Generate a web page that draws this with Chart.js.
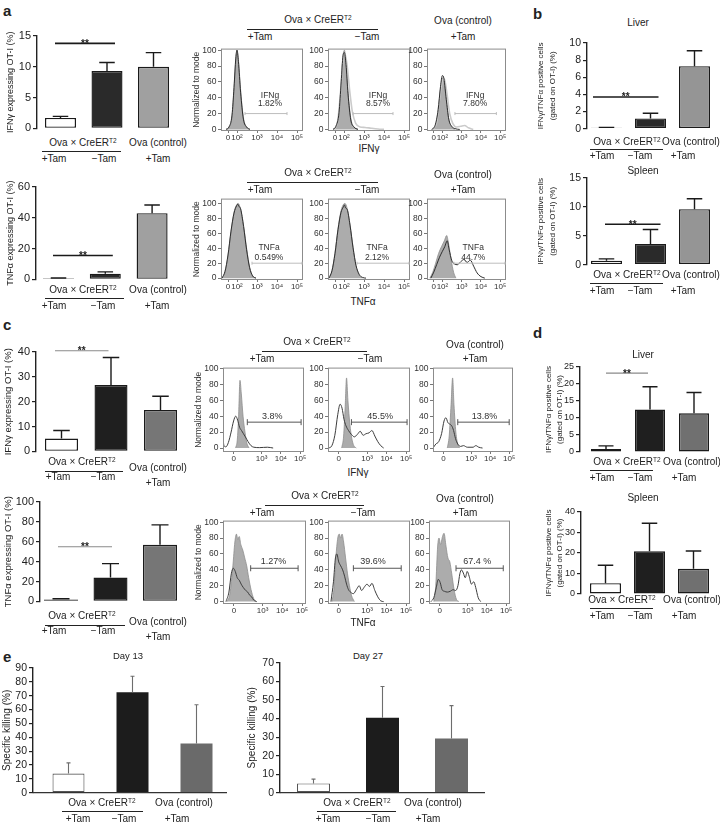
<!DOCTYPE html>
<html>
<head>
<meta charset="utf-8">
<title>OT-I cytokine and killing figure</title>
<script src="https://cdn.jsdelivr.net/npm/chart.js@4.4.1/dist/chart.umd.min.js"></script>
<style>
  html, body { margin: 0; padding: 0; background: #fff; }
  body { position: relative; width: 720px; height: 825px; overflow: hidden;
         font-family: 'Liberation Sans', Arial, sans-serif; color: #222; }
  canvas { position: absolute; }
  .lb { position: absolute; transform: translate(-50%, -50%); white-space: nowrap; line-height: 1; }
  .lb sup { font-size: 65%; position: relative; top: -0.45em; vertical-align: baseline; line-height: 0; }
  .rule { position: absolute; height: 0; border-top: 1.3px solid #222; }
  .letter { position: absolute; font-weight: bold; font-size: 15px; line-height: 1; }
</style>
</head>
<body>
<script>
(function () {
    'use strict';

    const FONT = "'Liberation Sans', Arial, 'DejaVu Sans', sans-serif";

    /* Bar data (mean and top of error bar), slots:
     * Ova x CreER +Tam, Ova x CreER -Tam, Ova (control) +Tam
     * -------------------------------------------------- */
    const barSlots = [0, 1, 2];

    const aIfnVals = [1.7, 9.3, 10.0];
    const aIfnErrs = [1.95, 10.7, 12.3];
    const aIfnTicks = [0, 5, 10, 15];
    const aIfnSig = [0, 1, 13.8];

    const aTnfVals = [0.7, 3.7, 43];
    const aTnfErrs = [0.9, 4.9, 48.3];
    const aTnfTicks = [0, 20, 40, 60];
    const aTnfSig = [0, 1, 15.5];

    const bLivVals = [0.12, 1.2, 7.3];
    const bLivErrs = [0.15, 1.8, 9.1];
    const bLivTicks = [0, 2, 4, 6, 8, 10];
    const bLivSig = [0, 1, 3.7];

    const bSplVals = [0.7, 3.6, 9.6];
    const bSplErrs = [1.0, 6.1, 11.4];
    const bSplTicks = [0, 5, 10, 15];
    const bSplSig = [0, 1, 7.0];

    const cIfnVals = [5.2, 26.7, 16.7];
    const cIfnErrs = [8.4, 37.8, 22.2];
    const cIfnTicks = [0, 10, 20, 30, 40];
    const cIfnSig = [0, 1, 40.5];

    const cTnfVals = [2, 24, 57];
    const cTnfErrs = [2.6, 38, 77];
    const cTnfTicks = [0, 20, 40, 60, 80, 100];
    const cTnfSig = [0, 1, 55];

    const dLivVals = [0.9, 12.5, 11.4];
    const dLivErrs = [1.8, 19.2, 17.5];
    const dLivTicks = [0, 5, 10, 15, 20, 25];
    const dLivSig = [0, 1, 23.2];

    const dSplVals = [5.3, 20.8, 12.3];
    const dSplErrs = [14, 34.5, 21];
    const dSplTicks = [0, 10, 20, 30, 40];

    const eD13Vals = [13.8, 72.5, 35.5];
    const eD13Errs = [21.5, 84, 63.5];
    const eD13Ticks = [0, 10, 20, 30, 40, 50, 60, 70, 80, 90];

    const eD27Vals = [5, 40.5, 29.2];
    const eD27Errs = [7.3, 57.3, 47];
    const eD27Ticks = [0, 10, 20, 30, 40, 50, 60, 70];

    /* Flow histograms: [log position, % of mode]
     * -------------------------------------------------- */
    const histYTicks = [0, 20, 40, 60, 80, 100];
    const aTickPos = [1.55, 2, 3, 4, 5];
    const aTickText = ['0', '10²', '10³', '10⁴', '10⁵'];
    const cTickPos = [1.55, 3, 4, 5];
    const cTickText = ['0', '10³', '10⁴', '10⁵'];

    const aIfnTam1Fill = [[1.45,0],[1.6,3],[1.75,16],[1.85,50],[1.94,88],[2.0,100],[2.07,88],[2.18,50],[2.32,15],[2.48,3],[2.65,0]];
    const aIfnTam1Line = [[1.45,0],[1.6,3],[1.75,18],[1.85,53],[1.94,90],[2.0,100],[2.07,86],[2.18,47],[2.32,13],[2.48,3],[2.65,0]];
    const aIfnTam2Fill = [[1.45,0],[1.6,4],[1.75,20],[1.86,58],[1.95,92],[2.02,100],[2.1,84],[2.2,48],[2.34,14],[2.5,3],[2.7,0]];
    const aIfnTam2Line = [[1.45,0],[1.6,4],[1.75,21],[1.86,60],[1.95,93],[2.02,97],[2.1,82],[2.2,45],[2.34,12],[2.5,3],[2.7,0]];
    const aIfnTam2Pale = [[1.5,0],[1.68,10],[1.82,45],[1.94,85],[2.04,96],[2.15,82],[2.28,50],[2.42,22],[2.58,8],[2.8,3],[3.05,2.5],[3.35,1.5],[3.7,0.5],[4.0,0]];
    const aIfnCtrlFill = [[1.45,0],[1.62,4],[1.78,22],[1.9,50],[2.0,65],[2.08,62],[2.2,38],[2.33,13],[2.48,3],[2.65,0]];
    const aIfnCtrlLine = [[1.45,0],[1.62,5],[1.78,25],[1.9,54],[2.0,68],[2.08,64],[2.2,38],[2.33,13],[2.48,4],[2.65,1],[2.9,0]];
    const aIfnCtrlPale = [[1.5,0],[1.7,9],[1.85,38],[1.98,60],[2.1,64],[2.22,48],[2.38,20],[2.55,7],[2.75,3],[2.95,4],[3.15,5],[3.35,2],[3.6,0]];

    const aTnfTam1Fill = [[1.25,0],[1.4,8],[1.55,30],[1.7,62],[1.85,88],[1.98,98],[2.06,100],[2.18,92],[2.33,70],[2.48,40],[2.63,15],[2.78,3],[2.95,0]];
    const aTnfTam1Line = [[1.25,0],[1.4,9],[1.55,31],[1.7,63],[1.85,87],[1.98,97],[2.04,99],[2.1,96],[2.18,93],[2.33,69],[2.48,38],[2.63,14],[2.78,3],[2.95,0]];
    const aTnfTam2Fill = [[1.25,0],[1.4,10],[1.55,34],[1.7,66],[1.85,90],[1.98,99],[2.05,100],[2.16,93],[2.3,72],[2.45,42],[2.6,17],[2.76,4],[2.92,0]];
    const aTnfTam2Line = [[1.25,0],[1.4,10],[1.55,33],[1.7,65],[1.85,88],[1.96,95],[2.02,98],[2.08,94],[2.16,92],[2.3,71],[2.45,41],[2.6,17],[2.76,5],[2.92,1],[3.1,0]];
    const aTnfCtrlFill = [[1.35,0],[1.5,8],[1.65,20],[1.8,33],[1.95,42],[2.1,50],[2.22,57],[2.32,46],[2.45,25],[2.58,8],[2.7,0]];
    const aTnfCtrlLine = [[1.4,0],[1.55,8],[1.7,18],[1.85,28],[2.0,36],[2.12,42],[2.25,50],[2.35,38],[2.48,24],[2.62,19],[2.78,18],[2.95,22],[3.12,25],[3.28,21],[3.45,24],[3.62,16],[3.8,7],[4.0,2],[4.2,0]];

    const cIfnTam1Fill = [[1.65,0],[1.74,10],[1.81,40],[1.88,85],[1.95,68],[2.04,40],[2.14,20],[2.24,6],[2.35,0]];
    const cIfnTam1Line = [[1.0,12],[1.05,3],[1.15,1.5],[1.28,7],[1.42,20],[1.55,34],[1.66,40],[1.76,35],[1.86,26],[1.96,22],[2.06,18],[2.16,14],[2.3,8],[2.45,3],[2.6,1],[2.9,0.5],[3.3,1],[3.6,0]];
    const cIfnTam2Fill = [[1.7,0],[1.8,15],[1.88,52],[1.95,88],[2.02,60],[2.12,30],[2.22,12],[2.32,3],[2.45,0]];
    const cIfnTam2Line = [[1.05,0],[1.2,3],[1.35,16],[1.5,42],[1.62,55],[1.72,50],[1.82,36],[1.92,28],[2.05,22],[2.2,17],[2.35,14],[2.5,17],[2.65,21],[2.8,16],[2.95,18],[3.1,19],[3.25,22],[3.4,15],[3.55,8],[3.7,3],[3.85,0]];
    const cIfnCtrlFill = [[1.75,0],[1.85,15],[1.95,55],[2.03,88],[2.1,55],[2.2,20],[2.3,5],[2.4,0]];
    const cIfnCtrlLine = [[1.0,0],[1.15,5],[1.3,8],[1.45,18],[1.58,34],[1.68,38],[1.78,32],[1.88,30],[1.98,28],[2.08,22],[2.18,12],[2.3,5],[2.45,2],[2.6,3],[2.8,1],[3.1,1],[3.25,3],[3.4,1],[3.6,0]];

    const cTnfTam1Fill = [[1.2,0],[1.35,10],[1.5,45],[1.6,75],[1.68,85],[1.75,78],[1.82,82],[1.9,72],[2.0,65],[2.1,55],[2.2,45],[2.3,30],[2.42,15],[2.55,4],[2.7,0]];
    const cTnfTam1Line = [[1.15,0],[1.3,12],[1.42,35],[1.52,42],[1.62,38],[1.72,30],[1.82,27],[1.92,22],[2.02,18],[2.15,14],[2.25,12],[2.35,8],[2.45,6],[2.55,2],[2.7,0]];
    const cTnfTam2Fill = [[1.2,0],[1.3,15],[1.4,55],[1.5,80],[1.58,85],[1.65,80],[1.72,85],[1.8,75],[1.9,55],[2.0,35],[2.1,20],[2.2,8],[2.35,0]];
    const cTnfTam2Line = [[1.15,0],[1.28,25],[1.38,55],[1.45,60],[1.55,50],[1.65,45],[1.75,40],[1.85,32],[1.95,22],[2.05,15],[2.15,12],[2.3,10],[2.45,15],[2.6,20],[2.72,14],[2.85,18],[3.0,22],[3.12,19],[3.25,23],[3.4,14],[3.55,6],[3.7,1],[3.85,0]];
    const cTnfCtrlFill = [[1.25,0],[1.35,20],[1.45,70],[1.52,80],[1.6,72],[1.7,82],[1.78,86],[1.88,70],[1.98,55],[2.08,50],[2.18,35],[2.3,15],[2.42,3],[2.55,0]];
    const cTnfCtrlLine = [[1.1,0],[1.25,5],[1.38,18],[1.48,28],[1.58,24],[1.68,15],[1.8,13],[1.95,12],[2.1,13],[2.25,15],[2.38,14],[2.5,20],[2.6,35],[2.68,40],[2.78,36],[2.88,30],[2.98,38],[3.08,32],[3.2,22],[3.32,25],[3.42,18],[3.55,5],[3.68,0]];

    // gates: [from, to, height]
    const aIfnGates = [[2.4, 4.5, 20], [2.45, 4.45, 20], [2.65, 4.8, 20]];
    const aIfnGateText = [['IFNg', '1.82%'], ['IFNg', '8.57%'], ['IFNg', '7.80%']];
    const aTnfGates = [[2.75, 5.3, 20], [2.65, 5.3, 20], [2.6, 5.3, 20]];
    const aTnfGateText = [['TNFa', '0.549%'], ['TNFa', '2.12%'], ['TNFa', '44.7%']];
    const cIfnGates = [[2.26, 5.05, 32.5], [2.2, 5.05, 32.5], [2.3, 5.0, 32.5]];
    const cIfnGateText = [['3.8%'], ['45.5%'], ['13.8%']];
    const cTnfGates = [[2.4, 4.8, 42], [2.3, 4.75, 42], [2.4, 4.85, 42]];
    const cTnfGateText = [['1.27%'], ['39.6%'], ['67.4 %']];


    Chart.defaults.font.family = FONT;
    Chart.defaults.color = '#222';

    const CRE = 'Ova × CreER<sup>T2</sup>';

    /* Small DOM helpers
     * -------------------------------------------------- */
    function put(x, y, html, size, bold) {
        const d = document.createElement('div');
        d.className = 'lb';
        d.style.left = x + 'px';
        d.style.top = y + 'px';
        d.style.fontSize = (size || 10) + 'px';
        if (bold) d.style.fontWeight = 'bold';
        d.innerHTML = html;
        document.body.appendChild(d);
    }

    function rule(x1, x2, y) {
        const d = document.createElement('div');
        d.className = 'rule';
        d.style.left = x1 + 'px';
        d.style.top = y + 'px';
        d.style.width = (x2 - x1) + 'px';
        document.body.appendChild(d);
    }

    function letter(x, y, t) {
        const d = document.createElement('div');
        d.className = 'letter';
        d.style.left = x + 'px';
        d.style.top = y + 'px';
        d.textContent = t;
        document.body.appendChild(d);
    }

    function canvasAt(left, top, w, h) {
        const c = document.createElement('canvas');
        c.width = Math.round(w);
        c.height = Math.round(h);
        c.style.left = Math.round(left) + 'px';
        c.style.top = Math.round(top) + 'px';
        c.style.width = Math.round(w) + 'px';
        c.style.height = Math.round(h) + 'px';
        document.body.appendChild(c);
        return c;
    }

    /* Bar chart with error bars + significance line
     * -------------------------------------------------- */
    function barChart(p) {
        const lineH = Array.isArray(p.title) ? (p.lh || 1.5) : 1.2;
        const padT = 12, padB = 8;
        const left = Math.round(p.tx - p.tsize * lineH / 2);
        const top = Math.round(p.top) - padT;
        const aw = p.ax - left;
        const w = p.right - left + 1;
        const h = Math.round(p.bottom - p.top) + padT + padB;
        const cv = canvasAt(left, top, w, h);
        const ticks = p.ticks;

        const extras = {
            id: 'extras',
            afterDatasetsDraw: function (chart) {
                const ctx = chart.ctx, ys = chart.scales.y, meta = chart.getDatasetMeta(0);
                ctx.save();
                if (p.base) {
                    const y0 = ys.getPixelForValue(0);
                    ctx.strokeStyle = '#333';
                    ctx.lineWidth = 1.2;
                    ctx.beginPath();
                    ctx.moveTo(chart.chartArea.left, y0);
                    ctx.lineTo(chart.chartArea.right, y0);
                    ctx.stroke();
                }
                ctx.strokeStyle = p.errColor;
                ctx.lineWidth = p.errW;
                p.errs.forEach(function (e, i) {
                    const bar = meta.data[i];
                    const ye = ys.getPixelForValue(e);
                    const half = p.capPx ? p.capPx / 2 : bar.width * 0.25;
                    ctx.beginPath();
                    ctx.moveTo(bar.x, bar.y);
                    ctx.lineTo(bar.x, ye);
                    ctx.moveTo(bar.x - half, ye);
                    ctx.lineTo(bar.x + half, ye);
                    ctx.stroke();
                });
                if (p.sig) {
                    const y = ys.getPixelForValue(p.sig[2]);
                    const x0 = meta.data[p.sig[0]].x + p.sigOff[0];
                    const x1 = meta.data[p.sig[1]].x + p.sigOff[1];
                    ctx.strokeStyle = p.sigColor;
                    ctx.lineWidth = p.sigW;
                    ctx.beginPath();
                    ctx.moveTo(x0, y);
                    ctx.lineTo(x1, y);
                    ctx.stroke();
                    ctx.fillStyle = '#222';
                    ctx.font = 'bold 10px ' + FONT;
                    ctx.textAlign = 'center';
                    ctx.textBaseline = 'alphabetic';
                    ctx.fillText('**', (x0 + x1) / 2, y + 3.5);
                }
                ctx.restore();
            }
        };

        new Chart(cv, {
            type: 'bar',
            data: {
                datasets: [{
                    data: barSlots.map(function (s) { return { x: s, y: p.vals[s] }; }),
                    backgroundColor: p.fill,
                    borderColor: p.stroke,
                    borderWidth: p.bwid,
                    borderSkipped: false,
                    barPercentage: p.bw / p.step,
                    categoryPercentage: 1
                }]
            },
            options: {
                responsive: false,
                animation: false,
                devicePixelRatio: 1,
                layout: { padding: { top: padT, bottom: padB, left: 0, right: 1 } },
                plugins: { legend: { display: false }, tooltip: { enabled: false } },
                scales: {
                    x: {
                        type: 'linear', display: false, offset: false,
                        min: -(p.c0 - p.ax) / p.step,
                        max: (p.right - p.c0) / p.step
                    },
                    y: {
                        min: 0, max: ticks[ticks.length - 1],
                        afterBuildTicks: function (s) { s.ticks = ticks.map(function (v) { return { value: v }; }); },
                        afterFit: function (s) { s.width = aw; },
                        ticks: { autoSkip: false, font: { size: p.fs || 11 }, color: '#222', padding: 2 },
                        grid: { drawOnChartArea: false, drawTicks: true, tickLength: 4, color: '#222', lineWidth: 1.2 },
                        border: { display: true, color: '#222', width: 1.4 },
                        title: { display: true, text: p.title, color: '#222', padding: 0,
                                 font: { size: p.tsize, lineHeight: lineH } }
                    }
                }
            },
            plugins: [extras]
        });

        // group labels under the bars
        const L = p.lab;
        const dl = L.dl || (L.low ? 8.5 : 8);
        const d2 = L.d2 || (L.low ? 14.5 : 16);
        put(L.cre, L.y0, CRE, 10);
        rule(L.line[0], L.line[1], L.y0 + dl);
        put(L.tam[0], L.y0 + d2, '+Tam', 10);
        put(L.tam[1], L.y0 + d2, '−Tam', 10);
        put(L.ctrl, L.y0 + (L.low ? 6 : 0), 'Ova (control)', 10);
        put(L.ctrlTam, L.y0 + (L.low ? 20.5 : d2), '+Tam', 10);
    }

    /* Flow histogram
     * -------------------------------------------------- */
    const curveStyles = {
        fill: { fill: 'origin', backgroundColor: '#acacac', borderColor: '#8e8e8e', borderWidth: 0.8, order: 3 },
        pale: { fill: false, borderColor: '#cbcbcb', borderWidth: 1.6, order: 2 },
        dark: { fill: false, borderColor: '#2e2e2e', borderWidth: 1, order: 1 },
        line: { fill: false, borderColor: '#3c3c3c', borderWidth: 1, order: 1 }
    };

    function hist(box, row, curves, gate, gateText, textX, withTitle) {
        const L = box[0], R = box[1];
        const aw = withTitle ? 29 : 19;
        const left = L - aw;
        const top = Math.round(row.T) - 6;
        const areaH = Math.round(row.B - row.T);
        const cv = canvasAt(left, top, R - left + 8, areaH + 22);

        const datasets = curves.map(function (c) {
            return Object.assign({
                data: c[1].map(function (pt) { return { x: pt[0], y: pt[1] }; }),
                pointRadius: 0,
                cubicInterpolationMode: 'monotone'
            }, curveStyles[c[0]]);
        });

        const gatePlug = {
            id: 'gate',
            afterDatasetsDraw: function (chart) {
                const ctx = chart.ctx, xs = chart.scales.x, ys = chart.scales.y, a = chart.chartArea;
                ctx.save();
                ctx.strokeStyle = '#8c8c8c';
                ctx.lineWidth = 1;
                ctx.strokeRect(a.left + 0.5, a.top + 0.5, a.right - a.left - 1, a.bottom - a.top - 1);
                const gy = ys.getPixelForValue(gate[2]);
                const gx0 = xs.getPixelForValue(gate[0]);
                const gx1 = Math.min(xs.getPixelForValue(gate[1]), a.right - 1);
                ctx.strokeStyle = row.gateColor;
                ctx.beginPath();
                ctx.moveTo(gx0, gy); ctx.lineTo(gx1, gy);
                ctx.moveTo(gx0, gy - row.cap); ctx.lineTo(gx0, gy + row.cap);
                ctx.moveTo(gx1, gy - row.cap); ctx.lineTo(gx1, gy + row.cap);
                ctx.stroke();
                ctx.fillStyle = '#333';
                ctx.font = row.gfont + 'px ' + FONT;
                ctx.textAlign = 'center';
                ctx.textBaseline = 'middle';
                gateText.forEach(function (t, i) {
                    ctx.fillText(t, xs.getPixelForValue(textX), ys.getPixelForValue(row.gy[i]));
                });
                ctx.restore();
            }
        };

        new Chart(cv, {
            type: 'line',
            data: { datasets: datasets },
            options: {
                responsive: false,
                animation: false,
                devicePixelRatio: 1,
                layout: { padding: { top: 6, right: 8, bottom: 2, left: 0 } },
                plugins: { legend: { display: false }, tooltip: { enabled: false } },
                scales: {
                    x: {
                        type: 'linear', min: row.xmin, max: row.xmax,
                        afterBuildTicks: function (s) { s.ticks = row.xt.map(function (v) { return { value: v }; }); },
                        afterFit: function (s) { s.height = 14; },
                        ticks: { autoSkip: false, maxRotation: 0, padding: 0, font: { size: 8 }, color: '#333',
                                 callback: function (v, i) { return row.xl[i]; } },
                        grid: { drawOnChartArea: false, tickLength: 2, color: '#777' },
                        border: { display: false }
                    },
                    y: {
                        min: row.ymin, max: row.ymax,
                        afterBuildTicks: function (s) { s.ticks = histYTicks.map(function (v) { return { value: v }; }); },
                        afterFit: function (s) { s.width = aw; },
                        ticks: { autoSkip: false, padding: 1.5, font: { size: 8.5 }, color: '#333' },
                        grid: { drawOnChartArea: false, tickLength: 3, color: '#777' },
                        border: { display: false },
                        title: { display: !!withTitle, text: 'Normalized to mode', color: '#333', padding: 0,
                                 font: { size: 8.5 } }
                    }
                }
            },
            plugins: [gatePlug]
        });
    }

    function histHeader(hh) {
        put(hh.cre, hh.y, CRE, 10);
        rule(hh.line[0], hh.line[1], hh.y + 8.5);
        put(hh.tam[0], hh.y + 16.5, '+Tam', 10);
        put(hh.tam[1], hh.y + 16.5, '−Tam', 10);
        put(hh.ctrl, hh.yc, 'Ova (control)', 10);
        put(hh.ctrl, hh.y + 16.5, '+Tam', 10);
        put(hh.axis[0], hh.axis[1], hh.axis[2], 10);
    }

    /* Layout
     * -------------------------------------------------- */
    const aFill = ['#ffffff', '#2a2a2a', '#a0a0a0'];
    const bFill = ['#ffffff', '#2a2a2a', '#959595'];
    const cFill = ['#ffffff', '#1f1f1f', '#767676'];
    const dFill = ['#ffffff', '#1f1f1f', '#707070'];
    const eFill = ['#ffffff', '#1c1c1c', '#6a6a6a'];
    const dark = '#1a1a1a';
    const twoLine = ['IFNγ/TNFα positive cells', '(gated on OT-I) (%)'];

    const std = { errColor: '#1a1a1a', errW: 1.4, stroke: dark, bwid: 1.4 };
    const blackSig = { sigColor: '#1a1a1a', sigW: 1.6 };
    const graySig = { sigColor: '#8a8a8a', sigW: 1.2 };

    letter(3, 3, 'a');
    letter(533, 6, 'b');
    letter(3, 317, 'c');
    letter(533, 325, 'd');
    letter(3, 649, 'e');

    // a: bars
    barChart(Object.assign({}, std, blackSig, {
        vals: aIfnVals, errs: aIfnErrs, ticks: aIfnTicks, sig: aIfnSig, sigOff: [-5.5, 8],
        ax: 37, c0: 60.5, step: 46.5, bw: 31, right: 177, top: 36, bottom: 129,
        title: 'IFNγ expressing OT-I (%)', tx: 10, tsize: 9, fill: aFill,
        lab: { y0: 143, cre: 83, line: [42, 121], tam: [54, 104], ctrl: 158, ctrlTam: 158 }
    }));
    barChart(Object.assign({}, std, blackSig, {
        vals: aTnfVals, errs: aTnfErrs, ticks: aTnfTicks, sig: aTnfSig, sigOff: [-5.5, 7.5],
        ax: 36, c0: 58.5, step: 46.8, bw: 31, right: 175, top: 187, bottom: 280,
        title: 'TNFα expressing OT-I (%)', tx: 10, tsize: 9, fill: aFill,
        lab: { y0: 290, cre: 83, line: [45, 124], tam: [54, 103], ctrl: 158, ctrlTam: 157 }
    }));

    // b: liver and spleen
    put(638, 23, 'Liver', 10);
    barChart(Object.assign({}, std, blackSig, {
        vals: bLivVals, errs: bLivErrs, ticks: bLivTicks, sig: bLivSig, sigOff: [-13.5, 8],
        ax: 587, c0: 606.5, step: 44, bw: 31, right: 716, top: 43, bottom: 129,
        title: twoLine, tx: 541, tsize: 8, fs: 10.5, fill: bFill,
        lab: { y0: 142, dl: 7, d2: 14, cre: 627, line: [590, 663], tam: [602, 640], ctrl: 691, ctrlTam: 683 }
    }));
    put(643, 171, 'Spleen', 10);
    barChart(Object.assign({}, std, blackSig, {
        vals: bSplVals, errs: bSplErrs, ticks: bSplTicks, sig: bSplSig, sigOff: [-1.5, 10],
        ax: 587, c0: 606.5, step: 44, bw: 31, right: 716, top: 178, bottom: 265,
        title: twoLine, tx: 541, tsize: 8, fs: 10.5, fill: bFill,
        lab: { y0: 275, cre: 627, line: [590, 663], tam: [602, 640], ctrl: 691, ctrlTam: 683 }
    }));

    // c: bars
    barChart(Object.assign({}, std, graySig, {
        vals: cIfnVals, errs: cIfnErrs, ticks: cIfnTicks, sig: cIfnSig, sigOff: [-6.5, -2.5],
        ax: 36, c0: 61.5, step: 49.5, bw: 33, right: 190, top: 352, bottom: 452,
        title: 'IFNγ expressing OT-I (%)', tx: 8.5, tsize: 9.5, fill: cFill,
        lab: { y0: 462, low: true, cre: 82, line: [45, 123], tam: [58, 103], ctrl: 158, ctrlTam: 158 }
    }));
    barChart(Object.assign({}, std, graySig, {
        vals: cTnfVals, errs: cTnfErrs, ticks: cTnfTicks, sig: cTnfSig, sigOff: [-3, 1.5],
        ax: 40, c0: 61, step: 49.5, bw: 34, right: 190, top: 502, bottom: 602,
        title: 'TNFα expressing OT-I (%)', tx: 8.5, tsize: 9.5, fill: cFill,
        lab: { y0: 616, low: true, cre: 82, line: [45, 125], tam: [54, 103], ctrl: 158, ctrlTam: 158 }
    }));

    // d: liver and spleen
    put(643, 355, 'Liver', 10);
    barChart(Object.assign({}, std, graySig, {
        vals: dLivVals, errs: dLivErrs, ticks: dLivTicks, sig: dLivSig, sigOff: [0, -2],
        ax: 580, c0: 606, step: 44, bw: 30, right: 716, top: 367, bottom: 452,
        title: twoLine, tx: 549, tsize: 8, lh: 1.3, fs: 9, fill: dFill,
        lab: { y0: 462, cre: 627, line: [590, 653], tam: [602, 640], ctrl: 692, ctrlTam: 684 }
    }));
    put(643, 498, 'Spleen', 10);
    barChart(Object.assign({}, std, {
        vals: dSplVals, errs: dSplErrs, ticks: dSplTicks,
        ax: 581, c0: 605.5, step: 44, bw: 31, right: 716, top: 512, bottom: 594,
        title: twoLine, tx: 549, tsize: 8, lh: 1.3, fs: 9, fill: dFill,
        lab: { y0: 600, cre: 622, line: [590, 653], tam: [602, 640], ctrl: 692, ctrlTam: 684 }
    }));

    // e: specific killing
    const eStyle = { errColor: '#6d6d6d', errW: 1.1, capPx: 4, stroke: ['#555', '#1c1c1c', '#6a6a6a'], bwid: [1.1, 0, 0], base: true };
    put(128, 656, 'Day 13', 9.5);
    barChart(Object.assign({}, eStyle, {
        vals: eD13Vals, errs: eD13Errs, ticks: eD13Ticks,
        ax: 33, c0: 68.5, step: 64, bw: 32, right: 227, top: 668, bottom: 793,
        title: 'Specific killing (%)', tx: 7, tsize: 10, fs: 10.5, fill: eFill,
        lab: { y0: 803, cre: 102, line: [62, 143], tam: [78, 124], ctrl: 184, ctrlTam: 177 }
    }));
    put(368, 656, 'Day 27', 9.5);
    barChart(Object.assign({}, eStyle, {
        vals: eD27Vals, errs: eD27Errs, ticks: eD27Ticks,
        ax: 280, c0: 313.5, step: 69, bw: 33, right: 485, top: 663, bottom: 793,
        title: 'Specific killing (%)', tx: 252, tsize: 10, fs: 10.5, fill: eFill,
        lab: { y0: 803, cre: 357, line: [317, 396], tam: [328, 378], ctrl: 433, ctrlTam: 428 }
    }));

    // histogram rows
    const rowA1 = { T: 48.4, B: 131, ymin: -2, ymax: 102, xmin: 1.2, xmax: 5.3, xt: aTickPos, xl: aTickText,
                    gateColor: '#bdbdbd', cap: 1.5, gfont: 8.5, gy: [43, 32] };
    const rowA2 = { T: 198, B: 280, ymin: -2.5, ymax: 106.5, xmin: 1.2, xmax: 5.3, xt: aTickPos, xl: aTickText,
                    gateColor: '#bdbdbd', cap: 1.5, gfont: 8.5, gy: [41, 28] };
    const rowC1 = { T: 367, B: 452, ymin: -5, ymax: 101, xmin: 1.0, xmax: 5.2, xt: cTickPos, xl: cTickText,
                    gateColor: '#555', cap: 3, gfont: 9, gy: [39] };
    const rowC2 = { T: 520.4, B: 604.4, ymin: -3, ymax: 102, xmin: 1.0, xmax: 5.2, xt: cTickPos, xl: cTickText,
                    gateColor: '#555', cap: 3, gfont: 9, gy: [50] };

    const aBoxes = [[221, 303], [328, 410], [427, 506]];
    const c1Boxes = [[223, 304], [328, 410], [433, 513]];
    const c2Boxes = [[223, 306], [328, 410], [429, 510]];

    histHeader({ y: 20, yc: 21, cre: 318, line: [247, 378], tam: [260, 367], ctrl: 463, axis: [369, 149, 'IFNγ'] });
    hist(aBoxes[0], rowA1, [['fill', aIfnTam1Fill], ['dark', aIfnTam1Line]], aIfnGates[0], aIfnGateText[0], 3.65, true);
    hist(aBoxes[1], rowA1, [['fill', aIfnTam2Fill], ['pale', aIfnTam2Pale], ['dark', aIfnTam2Line]], aIfnGates[1], aIfnGateText[1], 3.7);
    hist(aBoxes[2], rowA1, [['fill', aIfnCtrlFill], ['pale', aIfnCtrlPale], ['dark', aIfnCtrlLine]], aIfnGates[2], aIfnGateText[2], 3.7);

    histHeader({ y: 173, yc: 175, cre: 318, line: [247, 378], tam: [260, 367], ctrl: 463, axis: [363, 302, 'TNFα'] });
    hist(aBoxes[0], rowA2, [['fill', aTnfTam1Fill], ['dark', aTnfTam1Line]], aTnfGates[0], aTnfGateText[0], 3.6, true);
    hist(aBoxes[1], rowA2, [['fill', aTnfTam2Fill], ['dark', aTnfTam2Line]], aTnfGates[1], aTnfGateText[1], 3.65);
    hist(aBoxes[2], rowA2, [['fill', aTnfCtrlFill], ['dark', aTnfCtrlLine]], aTnfGates[2], aTnfGateText[2], 3.6);

    histHeader({ y: 342, yc: 345, cre: 317, line: [262, 367], tam: [262, 370], ctrl: 475, axis: [358, 473, 'IFNγ'] });
    hist(c1Boxes[0], rowC1, [['fill', cIfnTam1Fill], ['line', cIfnTam1Line]], cIfnGates[0], cIfnGateText[0], 3.55, true);
    hist(c1Boxes[1], rowC1, [['fill', cIfnTam2Fill], ['line', cIfnTam2Line]], cIfnGates[1], cIfnGateText[1], 3.67);
    hist(c1Boxes[2], rowC1, [['fill', cIfnCtrlFill], ['line', cIfnCtrlLine]], cIfnGates[2], cIfnGateText[2], 3.7);

    histHeader({ y: 496, yc: 499, cre: 325, line: [265, 364], tam: [262, 363], ctrl: 465, axis: [363, 623, 'TNFα'] });
    hist(c2Boxes[0], rowC2, [['fill', cTnfTam1Fill], ['line', cTnfTam1Line]], cTnfGates[0], cTnfGateText[0], 3.55, true);
    hist(c2Boxes[1], rowC2, [['fill', cTnfTam2Fill], ['line', cTnfTam2Line]], cTnfGates[1], cTnfGateText[1], 3.3);
    hist(c2Boxes[2], rowC2, [['fill', cTnfCtrlFill], ['line', cTnfCtrlLine]], cTnfGates[2], cTnfGateText[2], 3.5);

})();
</script>
</body>
</html>
